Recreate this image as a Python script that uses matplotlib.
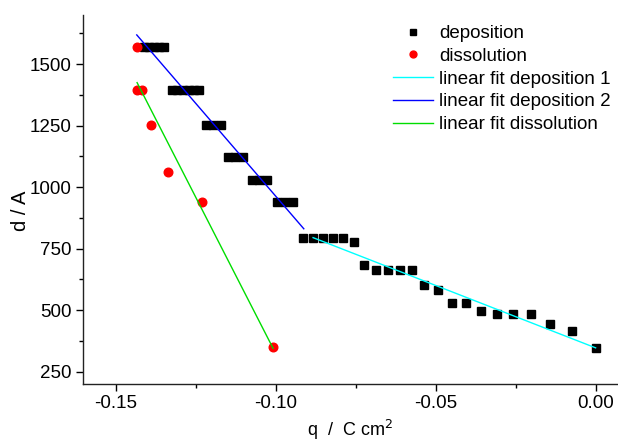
import numpy as np
import matplotlib as mpl
mpl.use('Agg')
import matplotlib.pyplot as plt
import matplotlib.ticker as mticker

plt.rcParams['font.family'] = ['Liberation Sans', 'DejaVu Sans']

# deposition: charge q (C cm^-2) vs thickness d (A)
dep_q = [-0.1412, -0.1396, -0.1380, -0.1365, -0.1349,
         -0.1324, -0.1307, -0.1290, -0.1272, -0.1255, -0.1238,
         -0.1218, -0.1196, -0.1171,
         -0.1149, -0.1127, -0.1102,
         -0.1074, -0.1052, -0.1027,
         -0.0996, -0.0971, -0.0946,
         -0.0914, -0.0882, -0.0853, -0.0820, -0.0789,
         -0.0756, -0.0723,
         -0.0687, -0.0650, -0.0612, -0.0574,
         -0.0536, -0.0494, -0.0450, -0.0406, -0.0358,
         -0.0309, -0.0258, -0.0202, -0.0141, -0.0073, 0.0]
dep_d = [1569, 1569, 1569, 1569, 1569,
         1396, 1396, 1396, 1396, 1396, 1396,
         1254, 1254, 1254,
         1121, 1121, 1121,
         1030, 1030, 1030,
         938, 938, 938,
         793, 793, 793, 793, 793,
         777, 682,
         662, 662, 662, 662,
         604, 581, 528, 528, 495,
         483, 483, 483, 442, 415, 347]

# dissolution
dis_q = [-0.1433, -0.1433, -0.1419, -0.1389, -0.1337, -0.1230, -0.1008]
dis_d = [1569, 1396, 1396, 1254, 1063, 938, 350]

# linear fits (end points)
fit1_q = [-0.0883, 0.0]
fit1_d = [795, 347]
fit2_q = [-0.1434, -0.0912]
fit2_d = [1619, 831]
fit3_q = [-0.1433, -0.1008]
fit3_d = [1425, 345]

fig = plt.figure(figsize=(6.18, 4.42), dpi=100)
ax = fig.add_axes([82.7/618, 58/442, 1 - 82.7/618, (384 - 15)/442])

ax.plot(dep_q, dep_d, 's', color='black', ms=5.2, mec='black', label='deposition', zorder=3)
ax.plot(dis_q, dis_d, 'o', color='red', ms=6.2, mec='red', label='dissolution', zorder=4)
ax.plot(fit1_q, fit1_d, '-', color='#00ffff', lw=1.0, label='linear fit deposition 1', zorder=5)
ax.plot(fit2_q, fit2_d, '-', color='#0000ff', lw=1.0, label='linear fit deposition 2', zorder=5)
ax.plot(fit3_q, fit3_d, '-', color='#00dd00', lw=1.0, label='linear fit dissolution', zorder=5)

ax.set_xlim(-0.1603, 0.0070)
ax.set_ylim(200, 1700)
ax.xaxis.set_major_locator(mticker.MultipleLocator(0.05))
ax.xaxis.set_minor_locator(mticker.MultipleLocator(0.025))
ax.yaxis.set_major_locator(mticker.MultipleLocator(250))
ax.yaxis.set_minor_locator(mticker.MultipleLocator(125))
ax.xaxis.set_major_formatter(mticker.FormatStrFormatter('%.2f'))
ax.spines['top'].set_visible(False)
ax.spines['right'].set_visible(False)
for s in ['left', 'bottom']:
    ax.spines[s].set_linewidth(1.0)
    ax.spines[s].set_color('#222222')
ax.tick_params(which='major', direction='out', length=5, width=1.0, labelsize=13.5, pad=3)
ax.tick_params(which='minor', direction='out', length=3, width=1.0)
ax.set_xlabel('q  /  C cm$^{2}$', fontsize=13, labelpad=4)
ax.set_ylabel('d / A', fontsize=14.5)
ax.yaxis.set_label_coords(-0.098, 0.47)

leg = ax.legend(loc='upper left', bbox_to_anchor=(393/618, 1 - 25/442),
                bbox_transform=fig.transFigure, frameon=False, fontsize=13.5,
                borderpad=0, borderaxespad=0, handlelength=2.13, handletextpad=0.32,
                labelspacing=0.3, markerscale=0.8)

fig.savefig('out.png', dpi=100)
